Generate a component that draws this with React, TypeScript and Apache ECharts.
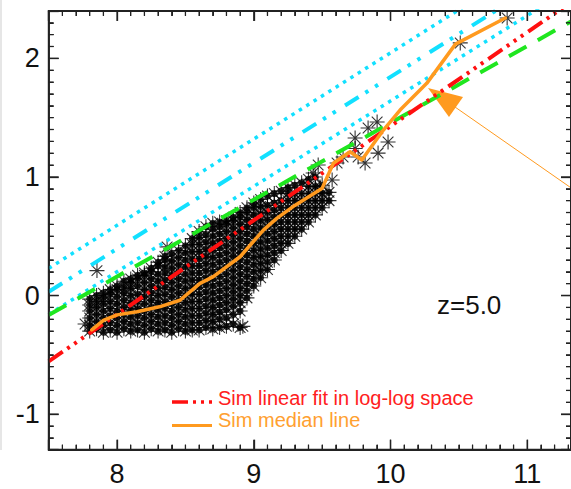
import React, { useEffect, useRef } from 'react';
import * as echarts from 'echarts';

const FONT = '"Liberation Sans", Arial, Helvetica, sans-serif';

// axis ranges and ticks
const xRange = [7.5, 11.32];
const yRange = [-1.3, 2.4];
const xMajor = [8, 9, 10, 11];
const yMajor = [-1, 0, 1, 2];
const xMinor = [7.6, 7.7, 7.8, 7.9, 8.1, 8.2, 8.3, 8.4, 8.5, 8.6, 8.7, 8.8, 8.9, 9.1, 9.2, 9.3, 9.4, 9.5, 9.6, 9.7, 9.8, 9.9, 10.1, 10.2, 10.3, 10.4, 10.5, 10.6, 10.7, 10.8, 10.9, 11.1, 11.2, 11.3];
const yMinor = [-1.2, -1.1, -0.9, -0.8, -0.7, -0.6, -0.5, -0.4, -0.3, -0.2, -0.1, 0.1, 0.2, 0.3, 0.4, 0.5, 0.6, 0.7, 0.8, 0.9, 1.1, 1.2, 1.3, 1.4, 1.5, 1.6, 1.7, 1.8, 1.9, 2.1, 2.2, 2.3];

// fit lines (endpoints)
const redFit = [[7.5, -0.555], [11.32, 2.474]];
const greenLine = [[7.5, -0.164], [11.32, 2.311]];
const cyanUpper = [[7.5, 0.229], [11.32, 3.006]];
const cyanMid = [[7.5, 0.032], [11.32, 2.8]];
const cyanLower = [[7.5, -0.159], [11.32, 2.591]];

// simulation median line
const medianLine = [
  [7.815, -0.29], [7.9, -0.21], [8.0, -0.163], [8.145, -0.137], [8.31, -0.095], [8.46, -0.04],
  [8.607, 0.103], [8.704, 0.159], [8.9, 0.327], [9.07, 0.552], [9.168, 0.651], [9.3, 0.76],
  [9.46, 0.875], [9.5, 0.904], [9.582, 1.115], [9.704, 1.212], [9.79, 1.143], [9.948, 1.395],
  [10.07, 1.564], [10.265, 1.789], [10.475, 2.12], [10.84, 2.34],
];

// simulated galaxies: dense cloud, column by column
const cloudX = [7.80, 7.85, 7.90, 7.95, 8.00, 8.05, 8.10, 8.15, 8.20, 8.25, 8.30, 8.35, 8.40, 8.45, 8.50, 8.55, 8.60, 8.65, 8.70, 8.75, 8.80, 8.85, 8.90, 8.95, 9.00, 9.05, 9.10, 9.15, 9.20, 9.25, 9.30, 9.35, 9.40, 9.45, 9.50, 9.55];
const cloudY = [
  [-0.30, -0.25, -0.19, -0.13, -0.08, -0.03],
  [-0.28, -0.22, -0.16, -0.10, -0.05, 0.00],
  [-0.31, -0.25, -0.19, -0.13, -0.07, -0.02, 0.02],
  [-0.29, -0.23, -0.17, -0.11, -0.05, 0.01, 0.05],
  [-0.31, -0.25, -0.19, -0.13, -0.07, -0.01, 0.05, 0.08],
  [-0.28, -0.22, -0.16, -0.10, -0.04, 0.02, 0.07, 0.12],
  [-0.30, -0.24, -0.18, -0.12, -0.06, 0.00, 0.06, 0.11, 0.14],
  [-0.29, -0.23, -0.17, -0.11, -0.05, 0.01, 0.08, 0.14, 0.17],
  [-0.31, -0.25, -0.19, -0.13, -0.07, -0.01, 0.05, 0.11, 0.17, 0.19],
  [-0.28, -0.22, -0.16, -0.10, -0.04, 0.02, 0.08, 0.14, 0.20, 0.23],
  [-0.30, -0.24, -0.18, -0.12, -0.06, 0.00, 0.06, 0.12, 0.18, 0.25, 0.28],
  [-0.29, -0.23, -0.17, -0.11, -0.05, 0.01, 0.07, 0.13, 0.19, 0.24, 0.30, 0.33],
  [-0.31, -0.25, -0.19, -0.13, -0.07, -0.01, 0.05, 0.11, 0.17, 0.23, 0.29, 0.35],
  [-0.28, -0.22, -0.16, -0.10, -0.04, 0.02, 0.08, 0.14, 0.20, 0.26, 0.32, 0.38],
  [-0.30, -0.24, -0.18, -0.12, -0.06, 0.00, 0.06, 0.12, 0.18, 0.24, 0.30, 0.36, 0.42],
  [-0.29, -0.23, -0.17, -0.11, -0.05, 0.01, 0.07, 0.13, 0.19, 0.25, 0.31, 0.37, 0.43, 0.48],
  [-0.29, -0.23, -0.17, -0.11, -0.05, 0.01, 0.07, 0.13, 0.19, 0.25, 0.31, 0.37, 0.43, 0.49, 0.54],
  [-0.27, -0.21, -0.15, -0.09, -0.03, 0.03, 0.09, 0.15, 0.21, 0.27, 0.33, 0.39, 0.45, 0.51, 0.58],
  [-0.28, -0.22, -0.16, -0.10, -0.04, 0.02, 0.08, 0.14, 0.20, 0.26, 0.32, 0.38, 0.44, 0.50, 0.56, 0.61],
  [-0.27, -0.20, -0.14, -0.08, -0.02, 0.04, 0.10, 0.16, 0.22, 0.28, 0.34, 0.40, 0.46, 0.52, 0.58, 0.62],
  [-0.26, -0.19, -0.12, -0.06, 0.00, 0.06, 0.12, 0.18, 0.24, 0.30, 0.36, 0.42, 0.48, 0.54, 0.60, 0.63],
  [-0.24, -0.16, -0.09, -0.03, 0.03, 0.09, 0.15, 0.21, 0.27, 0.33, 0.39, 0.45, 0.51, 0.57, 0.63, 0.66],
  [-0.27, -0.13, -0.06, 0.00, 0.06, 0.12, 0.18, 0.24, 0.30, 0.36, 0.42, 0.48, 0.54, 0.60, 0.66, 0.70],
  [-0.02, 0.04, 0.10, 0.16, 0.22, 0.28, 0.34, 0.40, 0.46, 0.52, 0.58, 0.64, 0.70, 0.74],
  [0.08, 0.14, 0.20, 0.26, 0.32, 0.38, 0.44, 0.50, 0.56, 0.62, 0.68, 0.74, 0.78],
  [0.15, 0.21, 0.27, 0.33, 0.39, 0.45, 0.51, 0.57, 0.63, 0.69, 0.75, 0.81],
  [0.22, 0.28, 0.34, 0.40, 0.46, 0.52, 0.58, 0.64, 0.70, 0.76, 0.84],
  [0.30, 0.36, 0.42, 0.48, 0.54, 0.60, 0.66, 0.72, 0.78, 0.86],
  [0.38, 0.44, 0.50, 0.56, 0.62, 0.68, 0.74, 0.80, 0.88],
  [0.44, 0.50, 0.56, 0.62, 0.68, 0.74, 0.80, 0.86, 0.91],
  [0.50, 0.56, 0.62, 0.68, 0.74, 0.80, 0.86, 0.93],
  [0.56, 0.62, 0.68, 0.74, 0.80, 0.86, 0.95],
  [0.62, 0.68, 0.74, 0.80, 0.86, 0.92, 0.98],
  [0.68, 0.74, 0.80, 0.86, 0.92, 1.00],
  [0.74, 0.80, 0.86, 0.93],
  [0.80, 0.87],
];
// isolated galaxies
const sparsePoints = [
  [7.766, -0.24], [7.853, 0.21], [8.366, 0.41], [8.92, -0.26],
  [9.434, 1.033], [9.471, 1.10], [9.485, 0.915], [9.573, 0.974], [9.609, 1.117],
  [9.653, 1.168], [9.741, 1.24], [9.763, 1.168], [9.814, 1.117], [9.909, 1.201],
  [9.982, 1.294], [9.741, 1.328], [9.836, 1.412], [9.902, 1.463],
  [10.51, 2.13], [10.853, 2.34],
];

const STAR = 'path://M0,-7L0,7M-7,0L7,0M-5,-5L5,5M-5,5L5,-5';

const RED = '#ff1010';
const GREEN = '#1fe61f';
const CYAN = '#12e0ff';
const ORANGE = '#ff9a1f';
const AXIS = '#222';

export default function App() {
  const ref = useRef<HTMLDivElement>(null);
  useEffect(() => {
    if (!ref.current) return;
    const chart = echarts.init(ref.current, null, { renderer: 'svg' });
    const cloud: number[][] = [];
    cloudX.forEach((x, i) => cloudY[i].forEach((y) => cloud.push([x, y])));
    const galaxies = cloud.concat(sparsePoints);

    const mkAxis = (range: number[], pos: string, labels: boolean, margin: number) => ({
      type: 'value', position: pos, min: range[0], max: range[1], splitNumber: 4,
      axisLine: { show: true, onZero: false, lineStyle: { color: AXIS, width: 1.8 } },
      splitLine: { show: false },
      axisTick: { show: true, inside: true, length: 10, lineStyle: { color: AXIS, width: 1.3 } },
      minorTick: { show: true, splitNumber: 10, length: 5 },
      axisLabel: labels
        ? { show: true, showMinLabel: false, showMaxLabel: false, margin, fontSize: 27, fontFamily: FONT, color: '#111' }
        : { show: false },
    });

    const fitLine = (data: number[][], color: string, width: number, dash: number[], z: number) => ({
      type: 'line', data, showSymbol: false, z,
      lineStyle: { color, width, type: dash, cap: 'butt' },
    });

    // frame and inward ticks on all four sides, placed through the axis scales
    const frameSeries = {
      type: 'custom', clip: false, z: 10,
      data: [[xRange[0], yRange[0]]],
      renderItem: (_params: any, api: any) => {
        const bl = api.coord([xRange[0], yRange[0]]);
        const tr = api.coord([xRange[1], yRange[1]]);
        const children: any[] = [
          {
            type: 'rect',
            shape: { x: bl[0], y: tr[1], width: tr[0] - bl[0], height: bl[1] - tr[1] },
            style: { fill: 'none', stroke: AXIS, lineWidth: 1.8 },
          },
        ];
        const tick = (x1: number, y1: number, x2: number, y2: number) =>
          children.push({ type: 'line', shape: { x1, y1, x2, y2 }, style: { stroke: AXIS, lineWidth: 1.3 } });
        const xt = (vals: number[], len: number) =>
          vals.forEach((v) => {
            const x = api.coord([v, yRange[0]])[0];
            tick(x, bl[1], x, bl[1] - len);
            tick(x, tr[1], x, tr[1] + len);
          });
        const yt = (vals: number[], len: number) =>
          vals.forEach((v) => {
            const y = api.coord([xRange[0], v])[1];
            tick(bl[0], y, bl[0] + len, y);
            tick(tr[0], y, tr[0] - len, y);
          });
        xt(xMinor, 5);
        xt(xMajor, 10);
        yt(yMinor, 5);
        yt(yMajor, 10);
        return { type: 'group', children };
      },
    };

    chart.setOption({
      animation: false,
      grid: { left: 48.7, top: 10.9, right: 0, bottom: 39.3 },
      xAxis: [mkAxis(xRange, 'bottom', true, 11), mkAxis(xRange, 'top', false, 11)],
      yAxis: [mkAxis(yRange, 'left', true, 9), mkAxis(yRange, 'right', false, 9)],
      series: [
        {
          type: 'scatter', data: cloud, symbol: 'circle', symbolSize: 7, z: 1,
          itemStyle: { color: '#000' },
        },
        {
          type: 'scatter', data: galaxies, symbol: STAR, symbolSize: 15, z: 2,
          itemStyle: { color: 'rgba(0,0,0,0)', borderColor: '#000', borderWidth: 1.1 },
        },
        fitLine(cyanUpper, CYAN, 3.5, [3.5, 5.2], 3),
        fitLine(cyanLower, CYAN, 3.5, [3.5, 5.2], 3),
        fitLine(cyanMid, CYAN, 4, [16, 8, 3.5, 8, 3.5, 11], 3),
        fitLine(greenLine, GREEN, 4, [20, 13], 4),
        fitLine(redFit, RED, 4, [17, 5.5, 3, 5.5, 3, 5.5, 3, 6], 5),
        {
          type: 'line', data: medianLine, showSymbol: false, z: 6,
          lineStyle: { color: ORANGE, width: 3.5, cap: 'round', join: 'round' },
        },
        frameSeries,
      ],
      graphic: [
        { type: 'rect', shape: { x: 0, y: 0, width: 2, height: 450 }, style: { fill: '#e6e6e6' }, silent: true },
        {
          type: 'line', shape: { x1: 455, y1: 107, x2: 620, y2: 222 },
          style: { stroke: ORANGE, lineWidth: 1 }, silent: true,
        },
        {
          type: 'polygon', shape: { points: [[428, 88], [463, 97], [449, 117]] },
          style: { fill: ORANGE }, silent: true,
        },
        {
          type: 'text', x: 437, y: 305,
          style: { text: 'z=5.0', fill: '#111', font: `26px ${FONT}`, verticalAlign: 'middle', align: 'left' },
          silent: true,
        },
        {
          type: 'line', shape: { x1: 172, y1: 402, x2: 214, y2: 402 },
          style: { stroke: RED, lineWidth: 3.5, lineDash: [16, 5, 3, 5, 3, 5, 3, 10] }, silent: true,
        },
        {
          type: 'line', shape: { x1: 172, y1: 425.5, x2: 212, y2: 425.5 },
          style: { stroke: ORANGE, lineWidth: 3 }, silent: true,
        },
        {
          type: 'text', x: 218, y: 398,
          style: { text: 'Sim linear fit in log-log space', fill: '#ff2020', font: `20px ${FONT}`, verticalAlign: 'middle', align: 'left' },
          silent: true,
        },
        {
          type: 'text', x: 218, y: 420,
          style: { text: 'Sim median line', fill: '#ffa030', font: `20px ${FONT}`, verticalAlign: 'middle', align: 'left' },
          silent: true,
        },
      ],
    });
    return () => chart.dispose();
  }, []);
  return <div ref={ref} style={{ position: 'absolute', left: 0, top: 0, width: 571, height: 489 }} />;
}
